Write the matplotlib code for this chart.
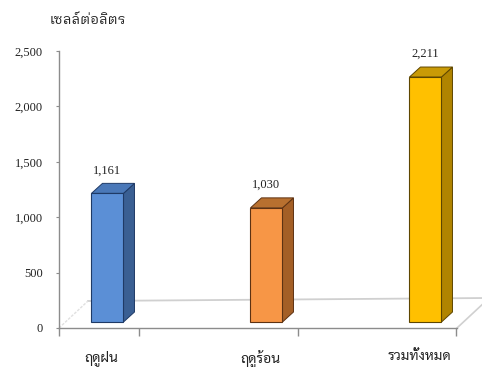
import matplotlib
matplotlib.use("Agg")
import matplotlib.pyplot as plt
from matplotlib.patches import Polygon

# cells per litre by season
categories = ["ฤดูฝน", "ฤดูร้อน", "รวมทั้งหมด"]
values = [1161, 1030, 2211]
yticks = [0, 500, 1000, 1500, 2000, 2500]

front_colors = ["#5b8fd6", "#f79646", "#ffc000"]
top_colors = ["#4a78b8", "#b8702f", "#c99a06"]
side_colors = ["#3a5f93", "#a45f26", "#b08400"]
edge_colors = ["#1f3a66", "#5e3212", "#5e4600"]

W, H = 482, 367
fig = plt.figure(figsize=(W / 100, H / 100), dpi=100)

# axes box in pixels: y axis at x=59, value 0 at y=328, 2500 at y=51
left_px, right_px, bot_px, top_px = 59, 457, 328, 51
ax = fig.add_axes([left_px / W, (H - bot_px) / H,
                   (right_px - left_px) / W, (bot_px - top_px) / H])
xmin = -0.264
xmax = xmin + (right_px - left_px) / 159.0
ax.set_xlim(xmin, xmax)
ax.set_ylim(0, 2500)

px_x = (right_px - left_px) / (xmax - xmin)
px_y = (bot_px - top_px) / 2500.0


def shift(x, y, dx, dy):
    # move a data point by a pixel offset
    return (x + dx / px_x, y + dy / px_y)


grey = "#8c8c8c"
light = "#d0d0d0"

# floor of the 3d plot
floor_dx, floor_dy = 29, 27
bl = shift(xmin, 0, floor_dx, floor_dy)
br = shift(xmax, 0, floor_dx, floor_dy)
ax.plot([bl[0], br[0]], [bl[1], br[1] + 3 / px_y], color=light, lw=1.3,
        clip_on=False, zorder=1)
ax.plot([xmin, bl[0]], [0, bl[1]], color="#e0e0e0", lw=1.0, ls=(0, (2, 1)),
        clip_on=False, zorder=1)
ax.plot([xmax, br[0]], [0, br[1]], color=light, lw=1.2,
        clip_on=False, zorder=1)

# bars
bw = 32 / px_x
off_dx, off_dy = 6.5, 6
depth_dx, depth_dy = 11, 10
for i, v in enumerate(values):
    x0, x1 = i - bw / 2, i + bw / 2
    fbl = shift(x0, 0, off_dx, off_dy)
    fbr = shift(x1, 0, off_dx, off_dy)
    ftr = shift(x1, v, off_dx, off_dy)
    ftl = shift(x0, v, off_dx, off_dy)
    d = lambda p: shift(p[0], p[1], depth_dx, depth_dy)
    side = Polygon([fbr, ftr, d(ftr), d(fbr)], closed=True,
                   facecolor=side_colors[i], edgecolor=edge_colors[i],
                   lw=0.7, clip_on=False, zorder=3)
    top = Polygon([ftl, ftr, d(ftr), d(ftl)], closed=True,
                  facecolor=top_colors[i], edgecolor=edge_colors[i],
                  lw=0.7, clip_on=False, zorder=3)
    front = Polygon([fbl, fbr, ftr, ftl], closed=True,
                    facecolor=front_colors[i], edgecolor=edge_colors[i],
                    lw=0.8, clip_on=False, zorder=4)
    for p in (side, top, front):
        ax.add_patch(p)
    lx, ly = shift(i, v, off_dx, off_dy + 23)
    ax.text(lx, ly, f"{v:,}", ha="center", va="center",
            family="Liberation Serif", fontsize=9, color="#222222",
            zorder=5)

# axes styling
for s in ("top", "right"):
    ax.spines[s].set_visible(False)
ax.spines["left"].set_color(grey)
ax.spines["bottom"].set_color(grey)
ax.spines["left"].set_linewidth(1.0)
ax.spines["bottom"].set_linewidth(1.0)

ax.set_yticks(yticks)
ax.set_yticklabels([f"{t:,}" for t in yticks], family="Liberation Serif",
                   fontsize=9, color="#222222")
ax.tick_params(axis="y", length=2.5, color=grey, pad=9)

ax.set_xticks(range(len(categories)))
ax.set_xticklabels(categories, family="Sarabun", fontsize=10,
                   color="#222222")
ax.tick_params(axis="x", which="major", length=0, pad=16)
ax.set_xticks([xmin, xmin + 0.5, xmin + 1.5, xmin + 2.5], minor=True)
ax.tick_params(axis="x", which="minor", length=6, color=grey, width=1.0)
ax.set_facecolor("none")

fig.text(88 / W, 1 - 20 / H, "เซลล์ต่อลิตร", ha="center", va="center",
         family="IBM Plex Sans Thai Looped", fontweight="normal",
         fontsize=10, color="#222222")

fig.savefig("out.png", dpi=100, facecolor="white")
